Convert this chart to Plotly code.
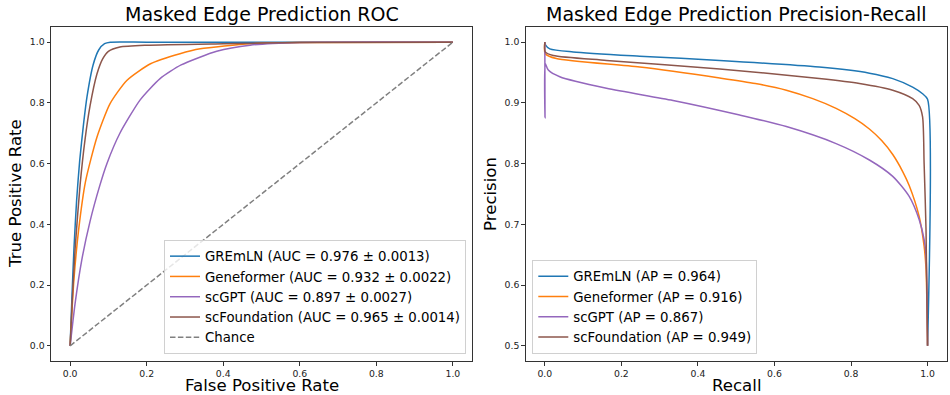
import plotly.graph_objects as go

# ---------------- data ----------------
models = ["GREmLN", "Geneformer", "scGPT", "scFoundation"]
colors = ["#1f77b4", "#ff7f0e", "#9467bd", "#8c564b"]
auc_labels = ["GREmLN (AUC = 0.976 ± 0.0013)", "Geneformer (AUC = 0.932 ± 0.0022)",
              "scGPT (AUC = 0.897 ± 0.0027)", "scFoundation (AUC = 0.965 ± 0.0014)"]
ap_labels = ["GREmLN (AP = 0.964)", "Geneformer (AP = 0.916)",
             "scGPT (AP = 0.867)", "scFoundation (AP = 0.949)"]

fpr_gremln = [0, 0.005, 0.01, 0.017, 0.025, 0.035, 0.044, 0.06, 0.075, 0.09, 0.105, 0.2, 1.0]
tpr_gremln = [0, 0.17, 0.32, 0.48, 0.61, 0.73, 0.82, 0.925, 0.975, 0.995, 1.0, 1.0, 1.0]

fpr_geneformer = [0, 0.005, 0.01, 0.022, 0.04, 0.07, 0.104, 0.148, 0.21, 0.287, 0.34, 0.47, 0.6, 1.0]
tpr_geneformer = [0, 0.12, 0.22, 0.38, 0.54, 0.687, 0.797, 0.874, 0.929, 0.962, 0.978, 0.995, 0.999, 1.0]

fpr_scgpt = [0, 0.013, 0.03, 0.052, 0.078, 0.096, 0.13, 0.183, 0.235, 0.29, 0.383, 0.47, 0.6, 1.0]
tpr_scgpt = [0, 0.14, 0.28, 0.41, 0.53, 0.60, 0.70, 0.81, 0.88, 0.925, 0.97, 0.99, 0.999, 1.0]

fpr_scfoundation = [0, 0.006, 0.013, 0.026, 0.039, 0.052, 0.07, 0.085, 0.1, 0.13, 0.2, 0.4, 0.6, 1.0]
tpr_scfoundation = [0, 0.16, 0.32, 0.53, 0.68, 0.79, 0.895, 0.945, 0.97, 0.984, 0.99, 0.995, 0.999, 1.0]

chance_x = [0, 1]
chance_y = [0, 1]

rec_gremln = [0, 0.002, 0.013, 0.074, 0.248, 0.457, 0.717, 0.848, 0.909, 0.961, 0.987, 1.0, 1.0]
prec_gremln = [1.0, 0.995, 0.989, 0.984, 0.977, 0.970, 0.959, 0.949, 0.940, 0.926, 0.915, 0.906, 0.5]

rec_geneformer = [0, 0.001, 0.030, 0.248, 0.457, 0.55, 0.631, 0.70, 0.761, 0.81, 0.848, 0.88, 0.909, 0.935, 0.952, 0.978, 0.991, 0.996, 1.0]
prec_geneformer = [1.0, 0.981, 0.973, 0.959, 0.941, 0.932, 0.921, 0.907, 0.891, 0.874, 0.857, 0.838, 0.815, 0.787, 0.764, 0.713, 0.664, 0.626, 0.5]

rec_scgpt = [0, 0.0005, 0.001, 0.009, 0.039, 0.161, 0.335, 0.509, 0.631, 0.761, 0.848, 0.909, 0.952, 0.978, 0.991, 0.996, 1.0]
prec_scgpt = [1.0, 0.875, 0.965, 0.954, 0.943, 0.924, 0.904, 0.880, 0.861, 0.833, 0.806, 0.779, 0.746, 0.708, 0.675, 0.648, 0.5]

rec_scfoundation = [0, 0.001, 0.022, 0.161, 0.457, 0.717, 0.822, 0.909, 0.961, 0.978, 0.987, 0.991, 0.996, 1.0]
prec_scfoundation = [1.0, 0.984, 0.978, 0.970, 0.956, 0.940, 0.932, 0.921, 0.907, 0.896, 0.877, 0.80, 0.691, 0.5]

roc_x = [fpr_gremln, fpr_geneformer, fpr_scgpt, fpr_scfoundation]
roc_y = [tpr_gremln, tpr_geneformer, tpr_scgpt, tpr_scfoundation]
pr_x = [rec_gremln, rec_geneformer, rec_scgpt, rec_scfoundation]
pr_y = [prec_gremln, prec_geneformer, prec_scgpt, prec_scfoundation]

tick_vals = [0.0, 0.2, 0.4, 0.6, 0.8, 1.0]
tick_text = ["0.0", "0.2", "0.4", "0.6", "0.8", "1.0"]
prec_ticks = [0.5, 0.6, 0.7, 0.8, 0.9, 1.0]
prec_text = ["0.5", "0.6", "0.7", "0.8", "0.9", "1.0"]

# ---------------- figure ----------------
W, H = 950, 395
FONT = "DejaVu Sans"
fig = go.Figure()

for i in range(4):
    fig.add_trace(go.Scatter(x=roc_x[i], y=roc_y[i], mode="lines", name=auc_labels[i],
                             line=dict(color=colors[i], width=1.5, shape="spline", smoothing=0.6),
                             xaxis="x", yaxis="y", legend="legend"))
fig.add_trace(go.Scatter(x=chance_x, y=chance_y, mode="lines", name="Chance",
                         line=dict(color="#808080", width=1.5, dash="5.5px,2.4px"),
                         xaxis="x", yaxis="y", legend="legend"))
for i in range(4):
    fig.add_trace(go.Scatter(x=pr_x[i], y=pr_y[i], mode="lines", name=ap_labels[i],
                             line=dict(color=colors[i], width=1.5, shape="spline", smoothing=0.7),
                             xaxis="x2", yaxis="y2", legend="legend2"))

def px_x(p):
    return p / W

def px_y(p):
    return 1 - p / H

axis_common = dict(showgrid=False, zeroline=False, showline=True, mirror=True,
                   linecolor="#333333", linewidth=1, ticks="outside", ticklen=3.5,
                   tickwidth=0.8, tickcolor="#333333", automargin=False,
                   tickfont=dict(family=FONT, size=9.3, color="#222222"))

fig.update_layout(
    width=W, height=H,
    margin=dict(l=0, r=0, t=0, b=0, pad=0, autoexpand=False),
    plot_bgcolor="white", paper_bgcolor="white",
    font=dict(family=FONT, color="#000000"),
    xaxis=dict(domain=[px_x(51), px_x(472)], range=[-0.05, 1.05],
               tickvals=tick_vals, ticktext=tick_text, anchor="y", **axis_common),
    yaxis=dict(domain=[px_y(361), px_y(27)], range=[-0.05, 1.05],
               tickvals=tick_vals, ticktext=tick_text, anchor="x", **axis_common),
    xaxis2=dict(domain=[px_x(525.7), px_x(946.7)], range=[-0.05, 1.05],
                tickvals=tick_vals, ticktext=tick_text, anchor="y2", **axis_common),
    yaxis2=dict(domain=[px_y(361), px_y(27)], range=[0.475, 1.025],
                tickvals=prec_ticks, ticktext=prec_text, anchor="x2", **axis_common),
    legend=dict(x=px_x(466), y=px_y(354), xanchor="right", yanchor="bottom",
                bgcolor="rgba(255,255,255,0.8)", bordercolor="#d0d0d0", borderwidth=1,
                font=dict(family=FONT, size=13.3, color="#000000"), itemwidth=30,
                tracegroupgap=0),
    legend2=dict(x=px_x(532.3), y=px_y(354), xanchor="left", yanchor="bottom",
                 bgcolor="rgba(255,255,255,0.8)", bordercolor="#d0d0d0", borderwidth=1,
                 font=dict(family=FONT, size=13.3, color="#000000"), itemwidth=30,
                 tracegroupgap=0),
    showlegend=True,
)

annots = [
    dict(text="Masked Edge Prediction ROC", x=px_x(261.5), y=px_y(14), size=19, angle=0),
    dict(text="Masked Edge Prediction Precision-Recall", x=px_x(736.5), y=px_y(14), size=19, angle=0),
    dict(text="False Positive Rate", x=px_x(261.5), y=px_y(385.5), size=16.6, angle=0),
    dict(text="Recall", x=px_x(736.5), y=px_y(385.5), size=16.6, angle=0),
    dict(text="True Positive Rate", x=px_x(16), y=px_y(194), size=16.6, angle=-90),
    dict(text="Precision", x=px_x(491), y=px_y(194), size=16.6, angle=-90),
]
for a in annots:
    fig.add_annotation(text=a["text"], x=a["x"], y=a["y"], xref="paper", yref="paper",
                       xanchor="center", yanchor="middle", showarrow=False,
                       textangle=a["angle"],
                       font=dict(family=FONT, size=a["size"], color="#000000"))

fig.write_html("out.html", config={"displayModeBar": False},
               post_script="document.body.style.margin='0';document.body.style.overflow='hidden';")
